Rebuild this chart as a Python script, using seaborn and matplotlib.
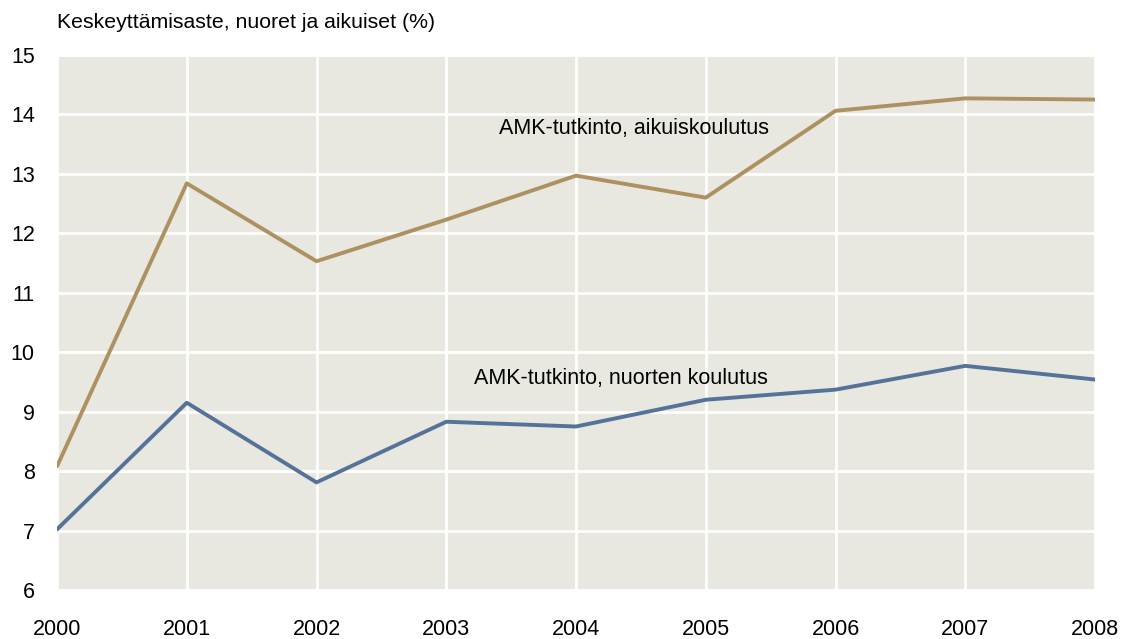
import pandas as pd
import numpy as np
import matplotlib.pyplot as plt
import seaborn as sns

# --- data ---
years = [2000, 2001, 2002, 2003, 2004, 2005, 2006, 2007, 2008]
aikuis = [8.08, 12.84, 11.53, 12.23, 12.97, 12.60, 14.06, 14.27, 14.25]
nuoret = [7.02, 9.15, 7.81, 8.83, 8.75, 9.20, 9.37, 9.77, 9.54]
labels = ['AMK-tutkinto, aikuiskoulutus', 'AMK-tutkinto, nuorten koulutus']
title = 'Keskeyttämisaste, nuoret ja aikuiset (%)'

df = pd.DataFrame({
    'Vuosi': years * 2,
    'Arvo': aikuis + nuoret,
    'Sarja': [labels[0]] * len(years) + [labels[1]] * len(years),
})

sns.set_style('white')
plt.rcParams['font.family'] = ['Liberation Sans', 'DejaVu Sans']

fig = plt.figure(figsize=(11.27, 6.39), dpi=100)
ax = fig.add_axes([0.0506, 0.0767, 0.9210, 0.8373])
ax.set_facecolor('#e8e7e0')

sns.lineplot(data=df, x='Vuosi', y='Arvo', hue='Sarja',
             palette=['#ad9160', '#557399'], linewidth=2.8,
             legend=False, ax=ax, zorder=3)

ax.set_xlim(2000, 2008)
ax.set_ylim(6, 15)
ax.set_xticks(years)
ax.set_yticks(range(6, 16))
ax.grid(True, color='white', linewidth=2.0, zorder=1)
ax.set_axisbelow(True)
for s in ax.spines.values():
    s.set_visible(False)
ax.tick_params(axis='x', length=0, pad=21, labelsize=15.5, labelcolor='black')
ax.tick_params(axis='y', length=0, pad=16, labelsize=15.5, labelcolor='black')
ax.set_xlabel('')
ax.set_ylabel('')

ax.text(2003.41, 13.77, labels[0], fontsize=15.5, va='center', ha='left', color='black')
ax.text(2003.21, 9.56, labels[1], fontsize=15.5, va='center', ha='left', color='black')
fig.text(0.0506, 0.965, title, fontsize=15.3, va='center', ha='left', color='black')

plt.savefig('out.png', dpi=100)
